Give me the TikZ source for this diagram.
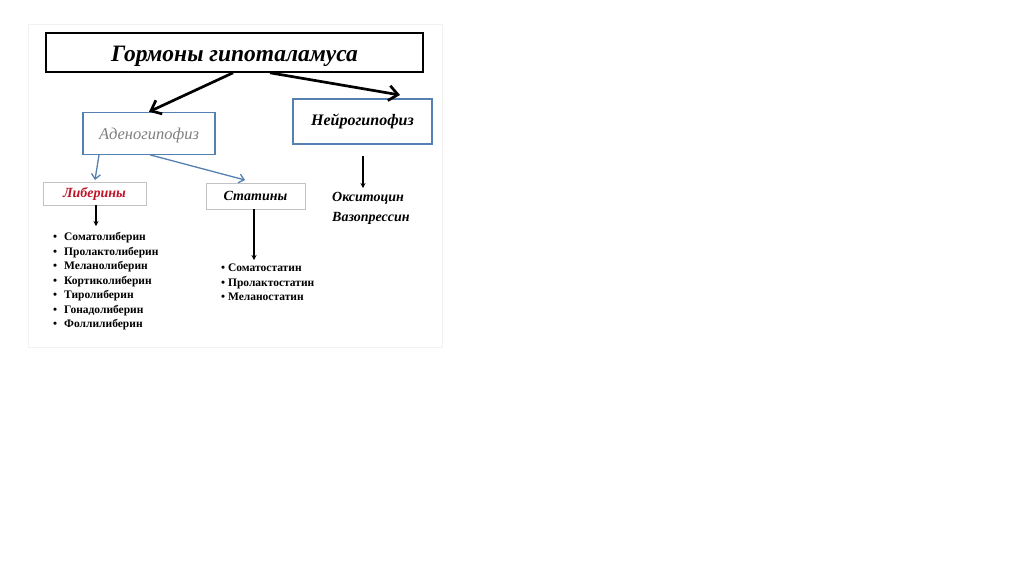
\documentclass[tikz,border=0pt]{standalone}
\usepackage{fontspec}
\setmainfont{Liberation Serif}
\usetikzlibrary{arrows.meta}
\definecolor{boxblue}{RGB}{84,128,178}
\definecolor{liberred}{RGB}{190,22,40}
\definecolor{adgray}{RGB}{128,128,128}
\definecolor{lightframe}{RGB}{195,195,195}
\definecolor{panelline}{RGB}{242,242,242}
\tikzset{
  mainbox/.style={draw=black, line width=1.6pt, inner sep=0pt, minimum width=377pt, minimum height=39pt,
    text height=18pt, text depth=0pt,
    font=\fontsize{23.5}{28}\selectfont\bfseries\itshape},
  bluebox/.style={draw=boxblue, line width=1.1pt, inner sep=0pt},
  greybox/.style={draw=lightframe, line width=0.9pt, inner sep=0pt},
  bigarrow/.style={line width=2.7pt, -{Straight Barb[length=9pt,width=15pt]}},
  bluearrow/.style={draw=boxblue, line width=1.3pt, -{Straight Barb[length=5pt,width=9pt]}},
  thinarrow/.style={line width=1.1pt, -{Stealth[length=5pt,width=5pt]}},
  listtext/.style={inner sep=0pt, font=\fontsize{11.5}{14.5}\selectfont\bfseries},
  subtext/.style={inner sep=0pt, font=\fontsize{14}{20}\selectfont\bfseries\itshape}
}
\begin{document}
\begin{tikzpicture}[x=1pt,y=-1pt]
\useasboundingbox (0,0) rectangle (1024,574);
\fill[white] (0,0) rectangle (1024,574);
\draw[panelline, line width=1pt] (28,24) rectangle (442,347);

% main boxes
\node[mainbox] (title) at (234.5,52.5) {Гормоны гипоталамуса};
\node[bluebox, minimum width=132pt, minimum height=42pt, text height=12pt, text depth=0pt,
      font=\fontsize{16.5}{19}\selectfont\itshape, text=adgray] (adeno) at (149,133.3) {Аденогипофиз};
\node[bluebox, minimum width=139pt, minimum height=45pt,
      font=\fontsize{16}{19}\selectfont\bfseries\itshape] (neuro) at (362.5,121.5) {Нейрогипофиз};
\node[greybox, minimum width=103pt, minimum height=23pt,
      font=\fontsize{14}{17}\selectfont\bfseries\itshape, text=liberred] (liber) at (94.5,193.5) {Либерины};
\node[greybox, minimum width=99pt, minimum height=26pt,
      font=\fontsize{14}{17}\selectfont\bfseries\itshape] (stat) at (255.5,196) {Статины};

% neurohypophysis hormones
\node[subtext, anchor=base west] (oxy) at (332,201.7) {Окситоцин};
\node[subtext, anchor=base west] (vaso) at (332,221.7) {Вазопрессин};

% free ends
\coordinate (rtip) at (400,95);
\coordinate (oxyin) at (363,188);
\coordinate (libin) at (96,226);
\coordinate (statin) at (254,260);
\coordinate (libertip) at (95,180);
\coordinate (stattip) at (245,180);

% connectors
\draw[bigarrow] ([xshift=-1.5pt]title.south) -- (adeno.north);
\draw[bigarrow] ([xshift=35.5pt]title.south) -- (rtip);
\draw[bluearrow] ([xshift=-50pt]adeno.south) -- (libertip);
\draw[bluearrow] ([xshift=1pt]adeno.south) -- (stattip);
\draw[thinarrow] ([xshift=0.5pt,yshift=-11pt]neuro.south) -- (oxyin);
\draw[thinarrow] ([xshift=1.5pt]liber.south) -- (libin);
\draw[thinarrow] ([xshift=-1.5pt]stat.south) -- (statin);

% liberins list
\foreach \t [count=\i] in {Соматолиберин,Пролактолиберин,Меланолиберин,Кортиколиберин,Тиролиберин,Гонадолиберин,Фоллилиберин}
  \node[listtext, anchor=base west] (lib\i) at (64,226+14.5*\i) {\llap{•\hspace{7pt}}\t};

% statins list
\foreach \t [count=\i] in {Соматостатин,Пролактостатин,Меланостатин}
  \node[listtext, anchor=base west] (st\i) at (221,257+14.5*\i) {• \t};
\end{tikzpicture}
\end{document}
